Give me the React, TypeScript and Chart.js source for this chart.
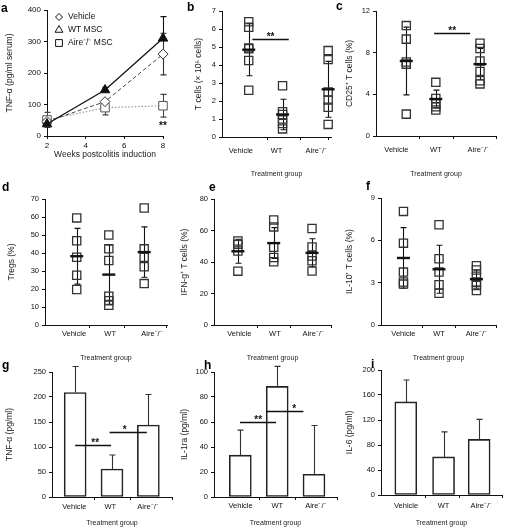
import { useEffect, useRef } from 'react';
import { Chart, registerables } from 'chart.js';
import { drawPoint } from 'chart.js/helpers';

Chart.register(...registerables);

const FONT = "'Liberation Sans', Arial, Helvetica, sans-serif";
const INK = '#111';
const TITLE_INK = '#222';

// ---------------- DATA ----------------
const GROUPS = ['Vehicle', 'WT', 'Aire⁻/⁻'];

// a — serum TNF-α over time
const WEEKS = [2, 5, 8];
const A_VEHICLE = [46, 109, 260];
const A_VEHICLE_ERR = [0, 0, 66];
const A_WT = [38, 146, 310];
const A_WT_ERR = [0, 9, 69];
const A_AIRE = [51, 90, 96];
const A_AIRE_ERR = [24, 23, 36];

// b — T cells (x10^5)
const B_VEHICLE = [6.4, 6.1, 4.95, 4.9, 4.25, 2.6];
const B_WT = [2.85, 1.4, 1.25, 1.0, 0.75, 0.45];
const B_AIRE = [4.8, 4.3, 2.5, 2.05, 1.65, 0.7];
const B_MEAN = [4.85, 1.25, 2.65];
const B_SD = [1.45, 0.85, 1.55];

// c — CD25+ T cells (%)
const C_VEHICLE = [10.6, 9.3, 7.1, 6.9, 2.1];
const C_WT = [5.15, 3.6, 3.1, 2.8, 2.5];
const C_AIRE = [8.9, 8.4, 7.2, 6.2, 5.3, 5.0];
const C_MEAN = [7.2, 3.55, 6.9];
const C_SD = [3.25, 0.85, 1.5];

// d — Tregs (%)
const D_VEHICLE = [59.5, 46.8, 37.6, 27.6, 19.7];
const D_WT = [50, 42.3, 35.8, 16, 13.5, 11];
const D_AIRE = [65, 42.3, 37.6, 32.4, 23];
const D_MEAN = [38.2, 28, 40.5];
const D_SD = [15.5, 16.5, 14];

// e — IFN-g+ T cells (%)
const E_VEHICLE = [53.3, 51.2, 47, 34.2];
const E_WT = [66.7, 62.3, 49.3, 42.9, 40.2];
const E_AIRE = [61.3, 49.6, 43.8, 40.8, 34.3];
const E_MEAN = [46.8, 52, 45.8];
const E_SD = [7.6, 9.8, 9];

// f — IL-10+ T cells (%)
const F_VEHICLE = [8.05, 5.8, 3.75, 3.05, 2.9];
const F_WT = [7.1, 4.7, 3.75, 2.85, 2.25];
const F_AIRE = [4.2, 3.9, 3.45, 3.05, 2.8, 2.45];
const F_MEAN = [4.75, 3.95, 3.25];
const F_SD = [2.15, 1.7, 0.65];

// g, h, i — cytokines (bars, mean + SD)
const G_TNF = [209, 56, 144];
const G_TNF_ERR = [52, 28, 61];
const H_IL1RA = [33.5, 88.5, 18.2];
const H_IL1RA_ERR = [20, 16, 39];
const I_IL6 = [149, 61, 89];
const I_IL6_ERR = [35, 40, 32];

// ---------------- LAYOUT ----------------
const COLS = [{ l: 0, w: 176 }, { l: 170, w: 170 }, { l: 333, w: 172 }];
const ROWS = [{ t: 0, h: 180 }, { t: 180, h: 183 }, { t: 362, h: 166 }];

type Plot = { x0: number; y0: number; x1: number; y1: number };
type Lay = {
  col: number; row: number; plot: Plot;
  groupX?: number[]; labelX?: number[]; tickX?: number[];
  labelPad?: number; titleX: number; xTitleY: number;
};

const L: Record<string, Lay> = {
  a: { col: 0, row: 0, plot: { x0: 47, y0: 10, x1: 163, y1: 136 }, titleX: 10, xTitleY: 155 },
  b: { col: 1, row: 0, plot: { x0: 222, y0: 11, x1: 332, y1: 137 }, groupX: [0.245, 0.555, 0.973], labelX: [0.173, 0.5, 0.864], tickX: [0.41, 0.718, 0.973], labelPad: 9.5, titleX: 199, xTitleY: 174 },
  c: { col: 2, row: 0, plot: { x0: 376, y0: 11, x1: 498, y1: 136 }, groupX: [0.252, 0.498, 0.866], labelX: [0.17, 0.498, 0.852], tickX: [0.361, 0.642, 1], labelPad: 9.5, titleX: 350, xTitleY: 174 },
  d: { col: 0, row: 1, plot: { x0: 45, y0: 199, x1: 167, y1: 325 }, groupX: [0.26, 0.523, 0.813], labelX: [0.238, 0.534, 0.877], tickX: [0.364, 0.649, 0.995], labelPad: 4.5, titleX: 12, xTitleY: 358 },
  e: { col: 1, row: 1, plot: { x0: 214, y0: 199, x1: 337, y1: 325 }, groupX: [0.204, 0.51, 0.837], labelX: [0.216, 0.52, 0.847], tickX: [0.368, 0.651, 0.995], labelPad: 4.5, titleX: 185, xTitleY: 358 },
  f: { col: 2, row: 1, plot: { x0: 381, y0: 198, x1: 502, y1: 325 }, groupX: [0.195, 0.504, 0.829], labelX: [0.195, 0.504, 0.829], tickX: [0.36, 0.647, 0.995], labelPad: 4.5, titleX: 350, xTitleY: 358 },
  g: { col: 0, row: 2, plot: { x0: 52, y0: 372, x1: 172, y1: 497 }, groupX: [0.193, 0.5, 0.803], labelX: [0.186, 0.486, 0.8], tickX: [0.347, 0.653, 1], labelPad: 5.5, titleX: 10, xTitleY: 523 },
  h: { col: 1, row: 2, plot: { x0: 214, y0: 372, x1: 337, y1: 497 }, groupX: [0.214, 0.514, 0.813], labelX: [0.216, 0.515, 0.828], tickX: [0.368, 0.659, 1], labelPad: 4.5, titleX: 185, xTitleY: 523 },
  i: { col: 2, row: 2, plot: { x0: 381, y0: 370, x1: 502, y1: 495 }, groupX: [0.205, 0.517, 0.811], labelX: [0.207, 0.517, 0.829], tickX: [0.366, 0.647, 1], labelPad: 6, titleX: 350, xTitleY: 523 },
};

const LETTERS = [
  { ch: 'a', l: 1, b: 12 }, { ch: 'b', l: 187, b: 11 }, { ch: 'c', l: 336, b: 10 },
  { ch: 'd', l: 2, b: 191 }, { ch: 'e', l: 209, b: 191 }, { ch: 'f', l: 366, b: 190 },
  { ch: 'g', l: 2, b: 369 }, { ch: 'h', l: 204, b: 369.5 }, { ch: 'i', l: 371, b: 368 },
];

// ---------------- HELPERS ----------------
function frame(lay: Lay) {
  const c = COLS[lay.col], r = ROWS[lay.row], p = lay.plot;
  return {
    box: { l: c.l, t: r.t, w: c.w, h: r.h },
    padTop: p.y0 - r.t,
    padRight: c.l + c.w - p.x1,
    yWidth: p.x0 - c.l,
    xHeight: r.t + r.h - p.y1,
  };
}

type ErrSpec = { xs: number[]; ys: number[]; errs: number[]; mode: 'both' | 'up'; under: boolean; cap: number; color?: string; width?: number };
type SigSpec = { x0?: number; x1?: number; y?: number; text: string; tx?: number; ty?: number };
type LegendSpec = { dx: number; dy: number; gap: number; textDx: number; styles: { pointStyle: string; radius: number }[] };
type AnnotSpec = { errors?: ErrSpec[]; tickX?: number[]; sig?: SigSpec[]; legend?: LegendSpec };

function makeAnnot(spec: AnnotSpec) {
  const drawErrors = (chart: any, under: boolean) => {
    const { ctx } = chart;
    const xs = chart.scales.x, ys = chart.scales.y;
    (spec.errors || []).filter(e => e.under === under).forEach(e => {
      ctx.save();
      ctx.strokeStyle = e.color || INK;
      ctx.lineWidth = e.width || 1.1;
      ctx.beginPath();
      e.xs.forEach((xv, i) => {
        const err = e.errs[i];
        if (!err) return;
        const px = Math.round(xs.getPixelForValue(xv)) + 0.5;
        const top = ys.getPixelForValue(e.ys[i] + err);
        const bot = ys.getPixelForValue(e.mode === 'up' ? e.ys[i] : e.ys[i] - err);
        ctx.moveTo(px, top); ctx.lineTo(px, bot);
        ctx.moveTo(px - e.cap, top); ctx.lineTo(px + e.cap, top);
        if (e.mode === 'both') { ctx.moveTo(px - e.cap, bot); ctx.lineTo(px + e.cap, bot); }
      });
      ctx.stroke();
      ctx.restore();
    });
  };
  return {
    id: 'annot',
    beforeDatasetsDraw(chart: any) { drawErrors(chart, true); },
    afterDatasetsDraw(chart: any) { drawErrors(chart, false); },
    afterDraw(chart: any) {
      const { ctx, chartArea } = chart;
      const xs = chart.scales.x, ys = chart.scales.y;
      ctx.save();
      if (spec.tickX) {
        ctx.strokeStyle = INK; ctx.lineWidth = 1; ctx.beginPath();
        spec.tickX.forEach(v => {
          const px = Math.round(xs.getPixelForValue(v)) + 0.5;
          ctx.moveTo(px, chartArea.bottom); ctx.lineTo(px, chartArea.bottom + 3);
        });
        ctx.stroke();
      }
      (spec.sig || []).forEach(s => {
        ctx.fillStyle = INK;
        ctx.font = `bold 10px ${FONT}`;
        ctx.textAlign = 'center';
        ctx.textBaseline = 'alphabetic';
        if (s.x0 !== undefined && s.x1 !== undefined && s.y !== undefined) {
          const py = Math.round(ys.getPixelForValue(s.y)) + 0.5;
          ctx.strokeStyle = INK; ctx.lineWidth = 1.4;
          ctx.beginPath();
          ctx.moveTo(xs.getPixelForValue(s.x0), py);
          ctx.lineTo(xs.getPixelForValue(s.x1), py);
          ctx.stroke();
          const tx = xs.getPixelForValue(s.tx !== undefined ? s.tx : (s.x0 + s.x1) / 2);
          ctx.fillText(s.text, tx, py + 0.5);
        } else if (s.tx !== undefined && s.ty !== undefined) {
          ctx.fillText(s.text, xs.getPixelForValue(s.tx), ys.getPixelForValue(s.ty) + 5.8);
        }
      });
      if (spec.legend) {
        const lg = spec.legend;
        chart.data.datasets.forEach((ds: any, i: number) => {
          const st = lg.styles[i];
          const mx = chartArea.left + lg.dx, my = chartArea.top + lg.dy + i * lg.gap;
          ctx.fillStyle = '#fff'; ctx.strokeStyle = INK; ctx.lineWidth = 1;
          drawPoint(ctx, { pointStyle: st.pointStyle, radius: st.radius, borderWidth: 1, rotation: 0 } as any, mx, my);
          ctx.fillStyle = INK;
          ctx.font = `8.5px ${FONT}`;
          ctx.textAlign = 'left';
          ctx.textBaseline = 'middle';
          ctx.fillText(ds.label, chartArea.left + lg.textDx, my);
        });
      }
      ctx.restore();
    },
  };
}

function yAxis(lay: Lay, f: any, max: number, step: number, title: string, titleSize = 8.5, tickSize = 7.5) {
  const lh = titleSize * 1.2;
  return {
    type: 'linear', min: 0, max,
    ticks: { stepSize: step, color: INK, padding: 3, font: { family: FONT, size: tickSize } },
    grid: { display: true, drawOnChartArea: false, drawTicks: true, tickLength: 3, tickColor: INK, tickWidth: 1 },
    border: { display: true, color: INK, width: 1 },
    title: {
      display: true, text: title, color: TITLE_INK,
      font: { family: FONT, size: titleSize, lineHeight: 1.2 },
      padding: { top: lay.titleX - f.box.l - lh / 2, bottom: 0 },
    },
    afterFit(s: any) { s.width = f.yWidth; },
  };
}

function catAxis(lay: Lay, f: any) {
  const titleSize = 7;
  const lh = titleSize * 1.2;
  return {
    type: 'linear', min: 0, max: 1, offset: false,
    afterBuildTicks(s: any) { s.ticks = (lay.labelX as number[]).map(v => ({ value: v })); },
    ticks: {
      autoSkip: false, maxRotation: 0, minRotation: 0, padding: lay.labelPad, color: INK,
      font: { family: FONT, size: 7.5 },
      callback: (_v: any, i: number) => GROUPS[i],
    },
    grid: { display: true, drawOnChartArea: false, drawTicks: false, offset: false },
    border: { display: true, color: INK, width: 1 },
    title: {
      display: true, text: 'Treatment group', color: TITLE_INK,
      font: { family: FONT, size: titleSize, lineHeight: 1.2 },
      padding: { top: 0, bottom: f.box.t + f.box.h - lay.xTitleY - lh / 2 },
    },
    afterFit(s: any) { s.height = f.xHeight; },
  };
}

function baseOptions(f: any, x: any, y: any) {
  return {
    responsive: false,
    animation: false,
    events: [],
    layout: { padding: { left: 0, top: f.padTop, right: f.padRight, bottom: 0 } },
    plugins: { legend: { display: false }, tooltip: { enabled: false } },
    scales: { x, y },
  };
}

// ---------------- CHART BUILDERS ----------------
function lineChartA() {
  const lay = L.a; const f = frame(lay);
  const pts = (vals: number[]) => WEEKS.map((w, i) => ({ x: w, y: vals[i] }));
  const titleSize = 8.5, lh = titleSize * 1.2;
  const x = {
    type: 'linear', min: 2, max: 8,
    ticks: { stepSize: 2, color: INK, padding: 1.5, font: { family: FONT, size: 8 } },
    grid: { display: true, drawOnChartArea: false, drawTicks: true, tickLength: 3, tickColor: INK, tickWidth: 1 },
    border: { display: true, color: INK, width: 1 },
    title: {
      display: true, text: 'Weeks postcolitis induction', color: TITLE_INK,
      font: { family: FONT, size: titleSize, lineHeight: 1.2 },
      padding: { top: 0, bottom: f.box.t + f.box.h - lay.xTitleY - lh / 2 },
    },
    afterFit(s: any) { s.height = f.xHeight; },
  };
  const y = yAxis(lay, f, 400, 100, 'TNF-α (pg/ml serum)', 8.5, 8);
  return {
    type: 'line',
    data: {
      datasets: [
        { label: 'Vehicle', data: pts(A_VEHICLE), borderColor: '#444', borderWidth: 1, borderDash: [4, 2.5],
          pointStyle: 'rectRot', pointRadius: 5, pointBorderColor: '#333', pointBackgroundColor: '#fff', pointBorderWidth: 1, clip: false, order: 1 },
        { label: 'WT MSC', data: pts(A_WT), borderColor: '#111', borderWidth: 1.3,
          pointStyle: 'triangle', pointRadius: 5.5, pointBorderColor: '#111', pointBackgroundColor: '#111', pointBorderWidth: 1, clip: false, order: 0 },
        { label: 'Aire⁻/⁻ MSC', data: pts(A_AIRE), borderColor: '#9a9a9a', borderWidth: 1.2, borderDash: [1.5, 1.8],
          pointStyle: 'rect', pointRadius: 6, pointBorderColor: '#555', pointBackgroundColor: '#fff', pointBorderWidth: 1, clip: false, order: 2 },
      ],
    },
    options: baseOptions(f, x, y),
    plugins: [makeAnnot({
      errors: [
        { xs: WEEKS, ys: A_VEHICLE, errs: A_VEHICLE_ERR, mode: 'both', under: true, cap: 3, color: '#333' },
        { xs: WEEKS, ys: A_WT, errs: A_WT_ERR, mode: 'up', under: true, cap: 3, color: '#111' },
        { xs: WEEKS, ys: A_AIRE, errs: A_AIRE_ERR, mode: 'both', under: true, cap: 3, color: '#444' },
      ],
      sig: [{ text: '**', tx: 8, ty: 41 }],
      legend: {
        dx: 12, dy: 7, gap: 13, textDx: 21,
        styles: [{ pointStyle: 'rectRot', radius: 3.5 }, { pointStyle: 'triangle', radius: 4.5 }, { pointStyle: 'rect', radius: 4.8 }],
      },
    })],
  };
}

function scatterChart(lay: Lay, groups: number[][], mean: number[], sd: number[], yMax: number, step: number, title: string, sig: SigSpec[] = []) {
  const f = frame(lay);
  const gx = lay.groupX as number[];
  const pts = groups.flatMap((vals, g) => vals.map(v => ({ x: gx[g], y: v })));
  const means = mean.map((m, g) => ({ x: gx[g], y: m }));
  return {
    type: 'scatter',
    data: {
      datasets: [
        { data: means, pointStyle: 'line', pointRadius: 6.5, pointBorderWidth: 2.4, pointBorderColor: '#111', pointBackgroundColor: '#111', clip: false },
        { data: pts, pointStyle: 'rect', pointRadius: 5.8, pointBorderWidth: 1.3, pointBorderColor: '#333', pointBackgroundColor: 'rgba(0,0,0,0)', clip: false },
      ],
    },
    options: baseOptions(f, catAxis(lay, f), yAxis(lay, f, yMax, step, title)),
    plugins: [makeAnnot({
      errors: [{ xs: gx, ys: mean, errs: sd, mode: 'both', under: true, cap: 3 }],
      tickX: lay.tickX, sig,
    })],
  };
}

function barChart(lay: Lay, vals: number[], err: number[], yMax: number, step: number, title: string, sig: SigSpec[] = []) {
  const f = frame(lay);
  const gx = lay.groupX as number[];
  return {
    type: 'bar',
    data: {
      datasets: [{
        data: vals.map((v, i) => ({ x: gx[i], y: v })),
        backgroundColor: '#fff', borderColor: '#222', borderWidth: 1.6, borderSkipped: false,
        barThickness: 22, clip: false,
      }],
    },
    options: baseOptions(f, catAxis(lay, f), yAxis(lay, f, yMax, step, title)),
    plugins: [makeAnnot({
      errors: [{ xs: gx, ys: vals, errs: err, mode: 'up', under: false, cap: 3, color: '#333' }],
      tickX: lay.tickX, sig,
    })],
  };
}

const PANELS: { id: string; lay: Lay; make: () => any }[] = [
  { id: 'a', lay: L.a, make: lineChartA },
  { id: 'b', lay: L.b, make: () => scatterChart(L.b, [B_VEHICLE, B_WT, B_AIRE], B_MEAN, B_SD, 7, 1, 'T cells (× 10⁵ cells)', [{ x0: 0.278, x1: 0.612, y: 5.44, text: '**' }]) },
  { id: 'c', lay: L.c, make: () => scatterChart(L.c, [C_VEHICLE, C_WT, C_AIRE], C_MEAN, C_SD, 12, 4, 'CD25⁺ T cells (%)', [{ x0: 0.484, x1: 0.784, y: 9.9, text: '**' }]) },
  { id: 'd', lay: L.d, make: () => scatterChart(L.d, [D_VEHICLE, D_WT, D_AIRE], D_MEAN, D_SD, 70, 10, 'Tregs (%)') },
  { id: 'e', lay: L.e, make: () => scatterChart(L.e, [E_VEHICLE, E_WT, E_AIRE], E_MEAN, E_SD, 80, 20, 'IFN-g⁺ T cells (%)') },
  { id: 'f', lay: L.f, make: () => scatterChart(L.f, [F_VEHICLE, F_WT, F_AIRE], F_MEAN, F_SD, 9, 3, 'IL-10⁺ T cells (%)') },
  { id: 'g', lay: L.g, make: () => barChart(L.g, G_TNF, G_TNF_ERR, 250, 50, 'TNF-α (pg/ml)', [
    { x0: 0.193, x1: 0.492, y: 105, text: '**', tx: 0.36 },
    { x0: 0.48, x1: 0.79, y: 131, text: '*', tx: 0.605 },
  ]) },
  { id: 'h', lay: L.h, make: () => barChart(L.h, H_IL1RA, H_IL1RA_ERR, 100, 20, 'IL-1ra (pg/ml)', [
    { x0: 0.211, x1: 0.505, y: 60, text: '**', tx: 0.359 },
    { x0: 0.422, x1: 0.727, y: 68.6, text: '*', tx: 0.651 },
  ]) },
  { id: 'i', lay: L.i, make: () => barChart(L.i, I_IL6, I_IL6_ERR, 200, 40, 'IL-6 (pg/ml)') },
];

function ChartCanvas({ lay, make }: { lay: Lay; make: () => any }) {
  const ref = useRef<HTMLCanvasElement>(null);
  const box = frame(lay).box;
  useEffect(() => {
    const chart = new Chart(ref.current as HTMLCanvasElement, make());
    return () => chart.destroy();
  }, [make]);
  return (
    <canvas
      ref={ref}
      width={box.w}
      height={box.h}
      style={{ position: 'absolute', left: box.l, top: box.t, width: box.w, height: box.h }}
    />
  );
}

export default function App() {
  return (
    <div style={{ position: 'fixed', left: 0, top: 0, width: 505, height: 528, background: '#fff', overflow: 'hidden' }}>
      {PANELS.map(p => <ChartCanvas key={p.id} lay={p.lay} make={p.make} />)}
      {LETTERS.map(lt => (
        <span
          key={lt.ch}
          style={{
            position: 'absolute', left: lt.l, top: lt.b - 10.2, font: `bold 12px ${FONT}`,
            lineHeight: '12px', color: '#000', pointerEvents: 'none',
          }}
        >
          {lt.ch}
        </span>
      ))}
    </div>
  );
}
